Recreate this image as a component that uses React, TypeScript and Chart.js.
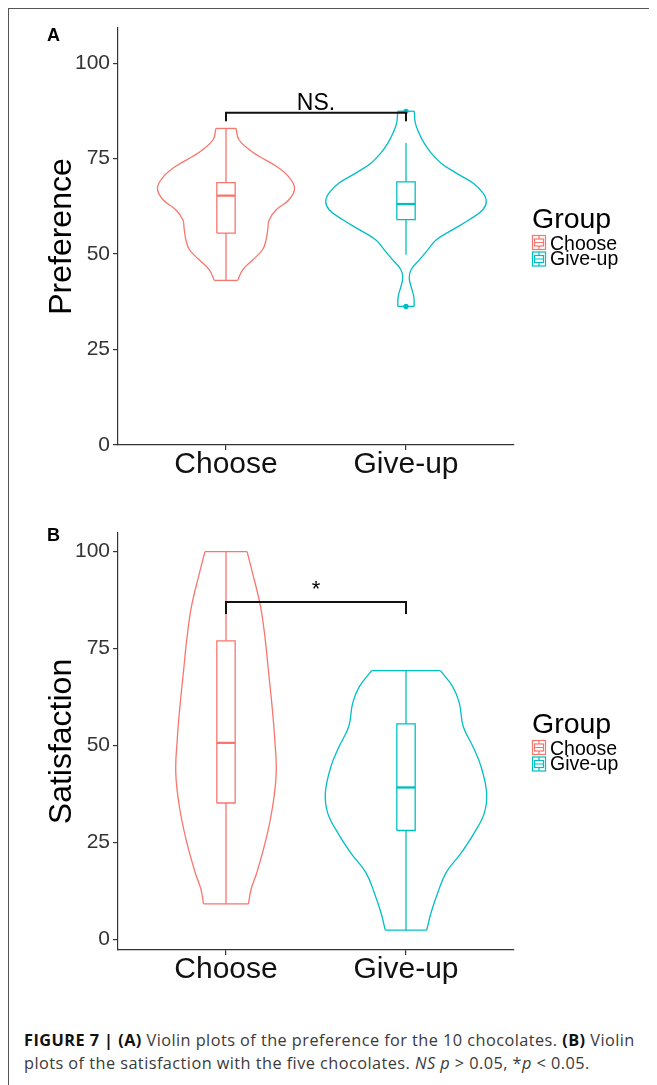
import React, { useEffect, useRef } from "react";
import { Chart, registerables } from "chart.js";

Chart.register(...registerables);

const FONT = "'Liberation Sans', Arial, Helvetica, sans-serif";

const GROUPS = ["Choose", "Give-up"];
const COLORS = ["#F8766D", "#00BFC4"];
const Y_TICKS = [0, 25, 50, 75, 100];

// ---------- Panel A: Preference ----------
const prefChooseLevels = [43.1, 45.9, 48.5, 51.2, 53.8, 56.4, 59.0, 61.6, 64.3, 67.3, 70.4, 73.0, 75.6, 77.4, 80.0, 82.9];
const prefChooseWidths = [0.065, 0.093, 0.149, 0.204, 0.223, 0.232, 0.240, 0.279, 0.351, 0.381, 0.345, 0.279, 0.184, 0.128, 0.071, 0.056];
const prefGiveupLevels = [36.3, 38.9, 41.5, 43.7, 45.9, 48.5, 51.1, 53.7, 56.4, 59.0, 61.6, 63.8, 66.0, 68.6, 71.2, 73.8, 76.5, 79.1, 81.7, 84.3, 87.4];
const prefGiveupWidths = [0.046, 0.043, 0.028, 0.018, 0.028, 0.074, 0.121, 0.167, 0.260, 0.351, 0.427, 0.446, 0.427, 0.372, 0.279, 0.195, 0.139, 0.100, 0.072, 0.052, 0.046];
// [whisker low, Q1, median, Q3, whisker high]
const prefChooseBox = [43.1, 55.5, 65.3, 68.7, 82.9];
const prefGiveupBox = [49.8, 59.0, 63.1, 68.9, 79.1];
const prefChooseOutliers: number[] = [];
const prefGiveupOutliers = [36.3, 87.4];
const prefBracket = [84.8, 87]; // tick end, bar level
const prefSigLabel = "NS.";

// ---------- Panel B: Satisfaction ----------
const satChooseLevels = [9.2, 12.9, 17.2, 25.8, 34.3, 42.9, 51.5, 60.1, 68.7, 77.3, 85.8, 94.4, 100];
const satChooseWidths = [0.125, 0.139, 0.171, 0.222, 0.259, 0.279, 0.271, 0.256, 0.237, 0.218, 0.192, 0.148, 0.117];
const satGiveupLevels = [2.4, 6.9, 12.0, 17.2, 22.3, 27.5, 32.6, 37.8, 44.6, 49.8, 54.9, 61.0, 65.2, 69.3];
const satGiveupWidths = [0.115, 0.139, 0.176, 0.222, 0.306, 0.379, 0.435, 0.448, 0.417, 0.371, 0.318, 0.296, 0.259, 0.191];
const satChooseBox = [9.2, 35.2, 50.7, 77.0, 100];
const satGiveupBox = [2.4, 28.1, 39.2, 55.6, 69.3];
const satChooseOutliers: number[] = [];
const satGiveupOutliers: number[] = [];
const satBracket = [83.9, 87];
const satSigLabel = "*";

const BOX_HALF = 0.051;

type PanelProps = {
  letter: string;
  yTitle: string;
  yMin: number;
  yMax: number;
  levels: number[][];
  widths: number[][];
  boxes: number[][];
  outliers: number[][];
  bracket: number[];
  sigLabel: string;
  sigSize: number;
  sigOffset: number;
  padTop: number;
  xAxisHeight: number;
  letterY: number;
  top: number;
};

function lineDs(data: { x: number; y: number }[], color: string, width: number, tension: number, order: number) {
  return {
    data,
    showLine: true,
    borderColor: color,
    backgroundColor: color,
    borderWidth: width,
    pointRadius: 0,
    tension,
    fill: false,
    order,
    borderCapStyle: "butt",
    borderJoinStyle: "miter",
  };
}

function drawKey(ctx: CanvasRenderingContext2D, x: number, y: number, color: string) {
  const w = 14, h = 15;
  ctx.save();
  ctx.strokeStyle = color;
  ctx.lineWidth = 1.2;
  ctx.strokeRect(x + 0.5, y + 0.5, w - 1, h - 1);
  ctx.strokeRect(x + 2.5, y + 4, w - 5, h - 8);
  ctx.beginPath();
  ctx.moveTo(x + 2.5, y + h / 2);
  ctx.lineTo(x + w - 2.5, y + h / 2);
  ctx.moveTo(x + w / 2, y + 0.5);
  ctx.lineTo(x + w / 2, y + 4);
  ctx.moveTo(x + w / 2, y + h - 4);
  ctx.lineTo(x + w / 2, y + h - 0.5);
  ctx.stroke();
  ctx.restore();
}

function Panel(p: PanelProps) {
  const ref = useRef<HTMLCanvasElement>(null);
  useEffect(() => {
    if (!ref.current) return;
    const datasets: any[] = [];
    datasets.push(
      lineDs(
        [
          { x: 1, y: p.bracket[0] },
          { x: 1, y: p.bracket[1] },
          { x: 2, y: p.bracket[1] },
          { x: 2, y: p.bracket[0] },
        ],
        "#111111",
        2,
        0,
        0
      )
    );
    for (let gi = 0; gi < 2; gi++) {
      const c = gi + 1;
      const col = COLORS[gi];
      const lv = p.levels[gi];
      const wd = p.widths[gi];
      const n = lv.length;
      const right = lv.map((y, i) => ({ x: c + wd[i], y }));
      const left = lv.map((y, i) => ({ x: c - wd[i], y }));
      datasets.push(lineDs(right, col, 1.3, 0.4, 4));
      datasets.push(lineDs(left, col, 1.3, 0.4, 4));
      datasets.push(lineDs([{ x: c - wd[0], y: lv[0] }, { x: c + wd[0], y: lv[0] }], col, 1.3, 0, 4));
      datasets.push(lineDs([{ x: c - wd[n - 1], y: lv[n - 1] }, { x: c + wd[n - 1], y: lv[n - 1] }], col, 1.3, 0, 4));
      const b = p.boxes[gi];
      datasets.push(
        lineDs(
          [
            { x: c - BOX_HALF, y: b[1] },
            { x: c + BOX_HALF, y: b[1] },
            { x: c + BOX_HALF, y: b[3] },
            { x: c - BOX_HALF, y: b[3] },
            { x: c - BOX_HALF, y: b[1] },
          ],
          col,
          1.3,
          0,
          3
        )
      );
      datasets.push(lineDs([{ x: c, y: b[0] }, { x: c, y: b[1] }], col, 1.3, 0, 3));
      datasets.push(lineDs([{ x: c, y: b[3] }, { x: c, y: b[4] }], col, 1.3, 0, 3));
      datasets.push(lineDs([{ x: c - BOX_HALF, y: b[2] }, { x: c + BOX_HALF, y: b[2] }], col, 2.3, 0, 2));
      const outs = p.outliers[gi];
      if (outs.length) {
        datasets.push({
          data: outs.map((y) => ({ x: c, y })),
          showLine: false,
          pointRadius: 2.6,
          pointBackgroundColor: col,
          pointBorderColor: col,
          pointBorderWidth: 0,
          order: 1,
        });
      }
    }

    const decor = {
      id: "decor" + p.letter,
      afterDraw(chart: any) {
        const { ctx, chartArea, scales } = chart;
        const cy = (chartArea.top + chartArea.bottom) / 2;
        ctx.save();
        ctx.fillStyle = "#000";
        ctx.font = `bold 18px ${FONT}`;
        ctx.textAlign = "left";
        ctx.textBaseline = "alphabetic";
        ctx.fillText(p.letter, 38, p.letterY);
        ctx.save();
        ctx.translate(62, cy);
        ctx.rotate(-Math.PI / 2);
        ctx.font = `32px ${FONT}`;
        ctx.textAlign = "center";
        ctx.fillStyle = "#000";
        ctx.fillText(p.yTitle, 0, 0);
        ctx.restore();
        const sx = scales.x.getPixelForValue(1.5);
        const sy = scales.y.getPixelForValue(p.bracket[1]);
        ctx.font = `${p.sigSize}px ${FONT}`;
        ctx.textAlign = "center";
        ctx.fillStyle = "#000";
        ctx.fillText(p.sigLabel, sx, sy - p.sigOffset);
        const lx = chartArea.right;
        ctx.textAlign = "left";
        ctx.font = `28.5px ${FONT}`;
        ctx.fillText("Group", lx + 18, cy - 9);
        drawKey(ctx, lx + 18, cy - 1.5, COLORS[0]);
        drawKey(ctx, lx + 18, cy + 15, COLORS[1]);
        ctx.font = `19.5px ${FONT}`;
        ctx.fillText(GROUPS[0], lx + 36, cy + 13);
        ctx.fillText(GROUPS[1], lx + 36, cy + 28.5);
        ctx.restore();
      },
    };

    const chart = new Chart(ref.current, {
      type: "scatter",
      data: { datasets },
      options: {
        animation: false,
        responsive: false,
        maintainAspectRatio: false,
        events: [],
        layout: { padding: { top: p.padTop, right: 143, bottom: 0, left: 0 } },
        plugins: { legend: { display: false }, tooltip: { enabled: false } },
        scales: {
          x: {
            type: "linear",
            min: 0.4,
            max: 2.6,
            afterBuildTicks: (s: any) => {
              s.ticks = GROUPS.map((_, i) => ({ value: i + 1 }));
            },
            afterFit: (s: any) => {
              s.height = p.xAxisHeight;
            },
            ticks: {
              callback: (v: any) => GROUPS[Math.round(Number(v)) - 1] ?? "",
              font: { family: FONT, size: 30, lineHeight: 1 },
              color: "#111",
              padding: 0,
              autoSkip: false,
              maxRotation: 0,
            },
            grid: { display: true, drawOnChartArea: false, drawTicks: true, tickLength: 5, color: "#333", lineWidth: 1.2 },
            border: { display: true, color: "#333", width: 1.2 },
          },
          y: {
            type: "linear",
            min: p.yMin,
            max: p.yMax,
            afterBuildTicks: (s: any) => {
              s.ticks = Y_TICKS.map((v) => ({ value: v }));
            },
            afterFit: (s: any) => {
              s.width = 109;
            },
            ticks: {
              font: { family: FONT, size: 21 },
              color: "#333",
              padding: 3,
              autoSkip: false,
            },
            grid: { display: true, drawOnChartArea: false, drawTicks: true, tickLength: 5, color: "#333", lineWidth: 1.2 },
            border: { display: true, color: "#333", width: 1.2 },
          },
        },
      },
      plugins: [decor],
    } as any);
    return () => chart.destroy();
  }, []);
  return (
    <canvas
      ref={ref}
      width={648}
      height={500}
      style={{ position: "absolute", left: 0, top: p.top, width: 648, height: 500, display: "block" }}
    />
  );
}

export default function App() {
  return (
    <>
      <style>{"html,body{overflow:hidden;background:#fff}"}</style>
      <div
        style={{
          position: "relative",
          width: 649,
          height: 1077,
          boxSizing: "border-box",
          borderTop: "1px solid #555",
          borderLeft: "1px solid #555",
          fontFamily: FONT,
        }}
      >
        <Panel
          letter="A"
          yTitle="Preference"
          yMin={0}
          yMax={109.2}
          levels={[prefChooseLevels, prefGiveupLevels]}
          widths={[prefChooseWidths, prefGiveupWidths]}
          boxes={[prefChooseBox, prefGiveupBox]}
          outliers={[prefChooseOutliers, prefGiveupOutliers]}
          bracket={prefBracket}
          sigLabel={prefSigLabel}
          sigSize={23}
          sigOffset={2.5}
          padTop={19}
          xAxisHeight={64}
          letterY={32}
          top={0}
        />
        <Panel
          letter="B"
          yTitle="Satisfaction"
          yMin={-2.7}
          yMax={104.8}
          levels={[satChooseLevels, satGiveupLevels]}
          widths={[satChooseWidths, satGiveupWidths]}
          boxes={[satChooseBox, satGiveupBox]}
          outliers={[satChooseOutliers, satGiveupOutliers]}
          bracket={satBracket}
          sigLabel={satSigLabel}
          sigSize={22}
          sigOffset={6}
          padTop={20}
          xAxisHeight={63}
          letterY={28}
          top={504}
        />
        <div
          style={{
            position: "absolute",
            left: 15,
            top: 1020,
            fontFamily: "'Open Sans', 'Liberation Sans', Arial, sans-serif",
            fontSize: 16.3,
            letterSpacing: "0.45px",
            lineHeight: "23px",
            color: "#3a3a3a",
            whiteSpace: "nowrap",
          }}
        >
          <div>
            <b style={{ color: "#111" }}>FIGURE 7 | (A)</b> Violin plots of the preference for the 10 chocolates.{" "}
            <b style={{ color: "#111" }}>(B)</b> Violin
          </div>
          <div>
            plots of the satisfaction with the five chocolates. <i>NS p</i> &gt; 0.05, *<i>p</i> &lt; 0.05.
          </div>
        </div>
      </div>
    </>
  );
}
